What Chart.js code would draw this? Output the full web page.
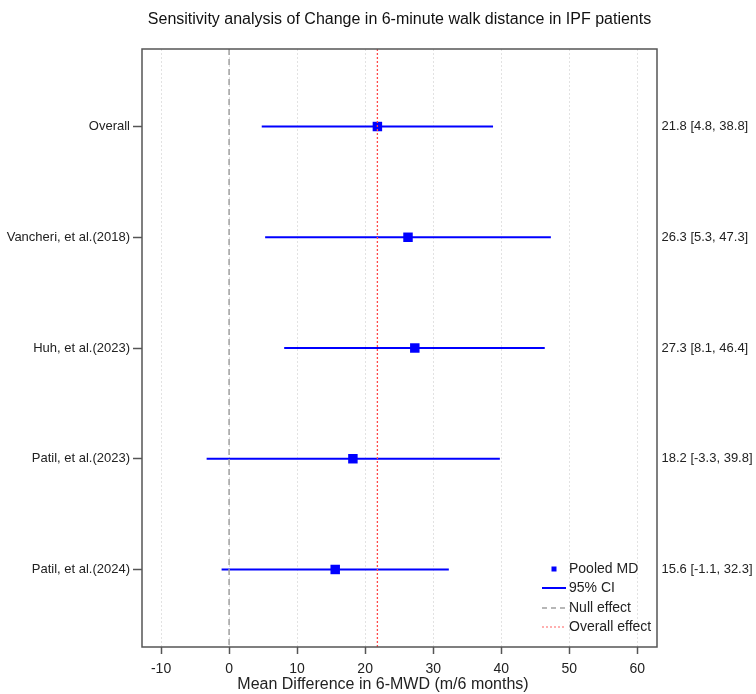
<!DOCTYPE html>
<html>
<head>
<meta charset="utf-8">
<script src="https://cdn.jsdelivr.net/npm/chart.js@4/dist/chart.umd.min.js"></script>
<style>
  html, body { margin: 0; padding: 0; background: #fff; }
  #wrap { width: 756px; height: 694px; }
</style>
</head>
<body>
<div id="wrap"><canvas id="c" width="756" height="694"></canvas></div>
<script>
// Sensitivity analysis: pooled mean difference after leaving out each study
const studies = ["Overall", "Vancheri, et al.(2018)", "Huh, et al.(2023)", "Patil, et al.(2023)", "Patil, et al.(2024)"];
const pooledMD = [21.8, 26.3, 27.3, 18.2, 15.6];
const ciLower = [4.8, 5.3, 8.1, -3.3, -1.1];
const ciUpper = [38.8, 47.3, 46.4, 39.8, 32.3];
const xTicks = [-10, 0, 10, 20, 30, 40, 50, 60];
const rowTicks = [0, 1, 2, 3, 4];
const nullEffect = 0;
const overallEffect = pooledMD[0];

const X_MIN = -12.8, X_MAX = 62.9;
const Y_MIN = -0.7, Y_MAX = 4.7;
const FONT = "'Liberation Sans', Arial, Helvetica, sans-serif";
const BLUE = '#0000ff';

const ciDatasets = studies.map((s, i) => ({
  type: 'line',
  label: s + ' CI',
  data: [{ x: ciLower[i], y: i }, { x: ciUpper[i], y: i }],
  borderColor: BLUE,
  borderWidth: 2.2,
  pointRadius: 0,
  fill: false,
  order: 2
}));

const datasets = [
  {
    type: 'scatter',
    label: 'Pooled MD',
    data: studies.map((s, i) => ({ x: pooledMD[i], y: i })),
    pointStyle: 'rect',
    pointRadius: 6.7,
    pointHoverRadius: 6.7,
    backgroundColor: BLUE,
    borderColor: BLUE,
    borderWidth: 0,
    order: 1
  },
  ...ciDatasets,
  {
    type: 'line',
    label: 'Null effect',
    data: [{ x: nullEffect, y: Y_MIN }, { x: nullEffect, y: Y_MAX }],
    borderColor: '#a0a0a0',
    borderWidth: 1.5,
    borderDash: [6, 4],
    pointRadius: 0,
    order: 0
  },
  {
    type: 'line',
    label: 'Overall effect',
    data: [{ x: overallEffect, y: Y_MIN }, { x: overallEffect, y: Y_MAX }],
    borderColor: '#ff4a4a',
    borderWidth: 1.3,
    borderDash: [2, 2],
    pointRadius: 0,
    order: -1
  }
];

// Frame, value labels on the right, x-axis title and legend
const decorations = {
  id: 'decorations',
  afterDraw(chart) {
    const { ctx, chartArea: a, scales } = chart;
    const ys = scales.y;
    ctx.save();
    // plot frame
    ctx.strokeStyle = '#555';
    ctx.lineWidth = 1.5;
    ctx.setLineDash([]);
    ctx.strokeRect(a.left, a.top, a.right - a.left, a.bottom - a.top);

    // effect size labels
    ctx.fillStyle = '#222';
    ctx.font = '13px ' + FONT;
    ctx.textAlign = 'left';
    ctx.textBaseline = 'middle';
    studies.forEach((s, i) => {
      const txt = pooledMD[i].toFixed(1) + ' [' + ciLower[i].toFixed(1) + ', ' + ciUpper[i].toFixed(1) + ']';
      ctx.fillText(txt, a.right + 4.5, ys.getPixelForValue(i));
    });

    // x-axis title
    ctx.fillStyle = '#222';
    ctx.font = '16px ' + FONT;
    ctx.textAlign = 'center';
    ctx.fillText('Mean Difference in 6-MWD (m/6 months)', 383, 685);

    // legend
    const lx = a.right - 88;
    const sx0 = lx - 27, sx1 = lx - 3;
    const ly = [a.bottom - 78, a.bottom - 59, a.bottom - 39, a.bottom - 20];
    ctx.font = '14px ' + FONT;
    ctx.textAlign = 'left';
    ctx.fillStyle = BLUE;
    ctx.fillRect((sx0 + sx1) / 2 - 2.5, ly[0] - 2.5, 5, 5);
    const seg = (y, color, w, dash) => {
      ctx.strokeStyle = color; ctx.lineWidth = w; ctx.setLineDash(dash);
      ctx.beginPath(); ctx.moveTo(sx0, y); ctx.lineTo(sx1, y); ctx.stroke();
    };
    seg(ly[1], BLUE, 2, []);
    seg(ly[2], '#a0a0a0', 1.5, [5, 4]);
    seg(ly[3], '#ff6060', 1, [2, 2]);
    ctx.setLineDash([]);
    ctx.fillStyle = '#222';
    ['Pooled MD', '95% CI', 'Null effect', 'Overall effect'].forEach((t, k) => ctx.fillText(t, lx, ly[k]));
    ctx.restore();
  }
};

new Chart(document.getElementById('c'), {
  data: { datasets },
  options: {
    responsive: false,
    animation: false,
    layout: { padding: { left: 0, right: 99, top: 0, bottom: 0 } },
    plugins: {
      legend: { display: false },
      tooltip: { enabled: false },
      title: {
        display: true,
        fullSize: false,
        text: 'Sensitivity analysis of Change in 6-minute walk distance in IPF patients',
        color: '#111',
        font: { family: FONT, size: 16, weight: 'normal' },
        padding: { top: 10, bottom: 19.8 }
      }
    },
    scales: {
      x: {
        type: 'linear',
        min: X_MIN,
        max: X_MAX,
        afterBuildTicks: (s) => { s.ticks = xTicks.map(v => ({ value: v })); },
        afterFit: (s) => { s.height = 47; },
        ticks: {
          color: '#222',
          font: { family: FONT, size: 14 },
          padding: 7,
          maxRotation: 0
        },
        grid: {
          color: '#e2e2e2',
          lineWidth: 1,
          drawTicks: true,
          tickLength: 7,
          tickColor: '#555',
          tickWidth: 1.5,
          tickBorderDash: []
        },
        border: { display: false, dash: [2, 2] }
      },
      y: {
        type: 'linear',
        reverse: true,
        min: Y_MIN,
        max: Y_MAX,
        afterBuildTicks: (s) => { s.ticks = rowTicks.map(v => ({ value: v })); },
        afterFit: (s) => { s.width = 142; },
        ticks: {
          color: '#222',
          font: { family: FONT, size: 13 },
          padding: 3,
          callback: (v) => studies[v]
        },
        grid: {
          drawOnChartArea: false,
          drawTicks: true,
          tickLength: 9,
          tickColor: '#555',
          tickWidth: 1.5
        },
        border: { display: false }
      }
    }
  },
  plugins: [decorations]
});
</script>
</body>
</html>
